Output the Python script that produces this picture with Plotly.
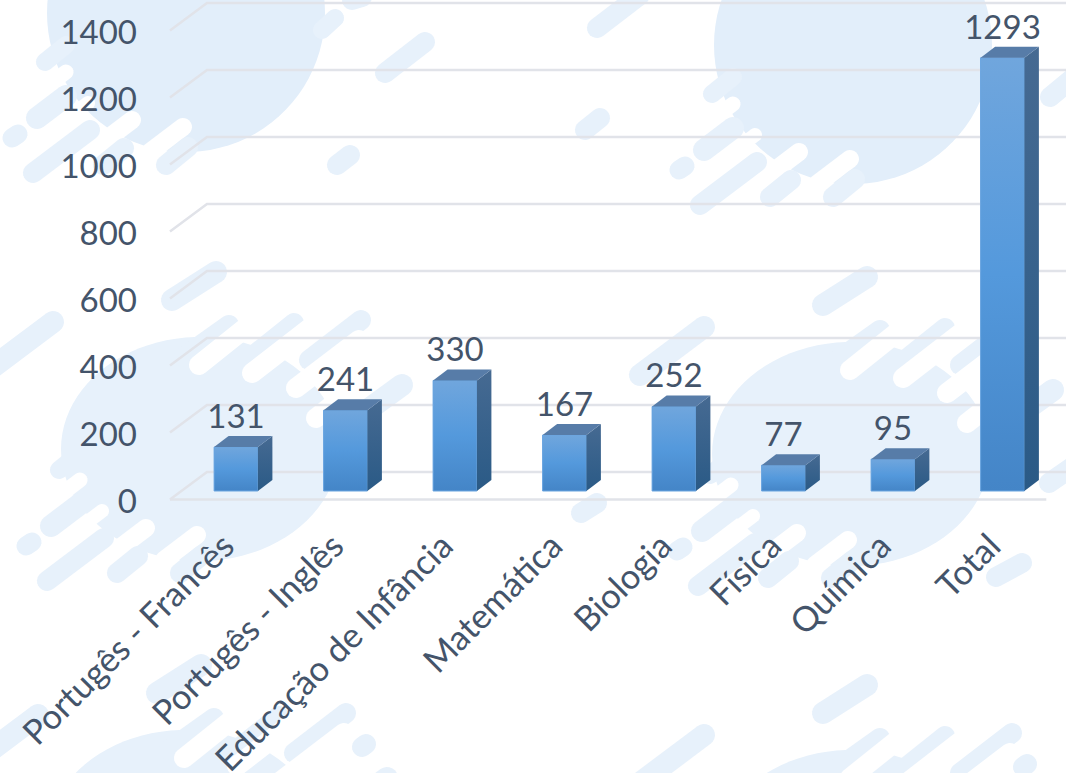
import numpy as np
import plotly.graph_objects as go

categories = ["Portugês - Francês", "Portugês - Inglês", "Educação de Infância", "Matemática",
              "Biologia", "Física", "Química", "Total"]
values = [131, 241, 330, 167, 252, 77, 95, 1293]
y_ticks = [0, 200, 400, 600, 800, 1000, 1200, 1400]

W, H = 1066, 773
TEXT = "#44546A"
FONT = "Lato"
FS = 33
FS_CAT = 34.5
BG = "#E7F1FB"
BG_TOP = "#E2EEFA"
BG_LOW = "#E7F1FB"
PX_X, X0 = 109.5, 236.0
PX_Y, Y0 = 0.335, 499.5
HALF = 0.2
DX, DY = 14.5 / PX_X, 11 / PX_Y
BASE = 8.5 / PX_Y
WALL = 27.5 / PX_Y
XL, XB, XF, XE = -0.603, -0.265, 7.4, 7.62


def px(x, y):
    return x / W, 1 - y / H


def poly(points):
    pts = [px(*p) for p in points]
    return "M" + "L".join(f"{a:.5f},{b:.5f}" for a, b in pts) + "Z"


def blob(cx, cy, rx, ry, color=BG):
    t = np.linspace(0, 2 * np.pi, 90, endpoint=False)
    return dict(type="path", xref="paper", yref="paper", layer="below", line_width=0, fillcolor=color,
                path=poly(list(zip(cx + rx * np.cos(t), cy + ry * np.sin(t)))))


def capsule(x0, y0, x1, y1, w, color=BG):
    a = np.arctan2(y1 - y0, x1 - x0)
    t = np.linspace(-np.pi / 2, np.pi / 2, 12)
    r = w / 2
    pts = [(x1 + r * np.cos(a + s), y1 + r * np.sin(a + s)) for s in t]
    pts += [(x0 - r * np.cos(a + s), y0 - r * np.sin(a + s)) for s in t]
    return dict(type="path", xref="paper", yref="paper", layer="below", line_width=0, fillcolor=color,
                path=poly(pts))


def moved(c, dx, dy):
    return (c[0] + dx, c[1] + dy, c[2] + dx, c[3] + dy, c[4])


LOW_WHITE = [(132, 120, 95, 148, 18), (183, 127, 150, 152, 18), (66, 72, 45, 88, 15), (88, 103, 55, 128, 14)]
LOW_BLUE = [(45, 62, 66, 45, 18), (37, 118, 66, 96, 22), (12, 138, 18, 134, 19),
            (33, 173, 90, 130, 20), (103, 165, 124, 148, 20), (166, 165, 188, 147, 20)]
TOP_BLUE = [(704, 327, 640, 375, 22), (880, 330, 835, 362, 20), (945, 328, 895, 368, 20),
            (1012, 325, 960, 365, 20), (1053, 390, 1005, 425, 22), (867, 277, 823, 305, 22)]
TOP_WHITE = [(850, 370, 900, 330, 20), (903, 378, 965, 330, 20), (947, 393, 1010, 345, 20),
             (967, 423, 1005, 393, 20)]

shapes = [blob(186, 13, 139, 139, BG_TOP), blob(853, 45, 139, 139, BG_TOP),
          blob(200, 449, 139, 112, BG_LOW), blob(851, 454, 139, 112, BG_LOW),
          blob(185, 842, 139, 112, BG_LOW), blob(851, 862, 139, 112, BG_LOW)]
for d in [(-651, -5), (0, 0), (-666, 388), (0, 408)]:
    shapes += [capsule(*moved(c, *d)) for c in TOP_BLUE]
    shapes += [capsule(*moved(c, *d), "white") for c in TOP_WHITE]
for d in [(0, 0), (667, 32), (14, 408), (665, 413)]:
    shapes += [capsule(*moved(c, *d), "white") for c in LOW_WHITE]
    shapes += [capsule(*moved(c, *d)) for c in LOW_BLUE]
for c in [(337, 165, 350, 155, 20), (585, 130, 600, 118, 20), (597, 28, 640, -5, 20),
          (385, 73, 425, 42, 20), (1050, 97, 1080, 72, 20), (322, 30, 335, 18, 18), (352, 0, 362, -3, 20),
          (581, 513, 597, 503, 20), (996, 577, 1022, 563, 20), (1049, 483, 1075, 465, 20),
          (362, 747, 366, 744, 20), (1023, 767, 1027, 764, 20)]:
    shapes.append(capsule(*c))

xs = list(range(len(categories)))
fig = go.Figure()

for v in y_ticks:
    fig.add_trace(go.Scatter(x=[XL, XB, XE], y=[v, v + WALL, v + WALL], mode="lines",
                             line=dict(color="#E1E3E9", width=2.5), hoverinfo="skip", showlegend=False))
fig.add_trace(go.Scatter(x=[XL, XF], y=[0, 0], mode="lines",
                         line=dict(color="#E1E3E9", width=2.5), hoverinfo="skip", showlegend=False))

fig.add_trace(go.Bar(x=xs, y=values, base=BASE, width=2 * HALF, showlegend=False,
                     marker=dict(color="#5499DC", line=dict(width=0))))

FRONT = [[0, "#4485C7"], [0.5, "#5499DC"], [1, "#70A6DD"]]
SIDE = [[0, "#2A5A86"], [1, "#466A92"]]
for x, v in zip(xs, values):
    top = BASE + v
    fig.add_trace(go.Scatter(x=[x - HALF, x + HALF, x + HALF, x - HALF, x - HALF],
                             y=[BASE, BASE, top, top, BASE], mode="lines", fill="toself",
                             line=dict(color="#6AA5E0", width=1),
                             fillgradient=dict(type="vertical", colorscale=FRONT),
                             hoverinfo="skip", showlegend=False))
    fig.add_trace(go.Scatter(x=[x + HALF, x + HALF + DX, x + HALF + DX, x + HALF, x + HALF],
                             y=[BASE, BASE + DY, top + DY, top, BASE], mode="lines", fill="toself",
                             line=dict(width=0, color="#3A6A98"),
                             fillgradient=dict(type="vertical", colorscale=SIDE),
                             hoverinfo="skip", showlegend=False))
    fig.add_trace(go.Scatter(x=[x - HALF, x + HALF, x + HALF + DX, x - HALF + DX, x - HALF],
                             y=[top, top, top + DY, top + DY, top], mode="lines", fill="toself",
                             fillcolor="#577CA8", line=dict(width=0, color="#577CA8"),
                             hoverinfo="skip", showlegend=False))

fig.add_trace(go.Scatter(x=xs, y=[BASE + DY + v for v in values], mode="text",
                         text=[str(v) for v in values], textposition="top center",
                         textfont=dict(family=FONT, size=FS, color=TEXT),
                         hoverinfo="skip", showlegend=False))

fig.update_layout(
    width=W, height=H, margin=dict(l=0, r=0, t=0, b=0, autoexpand=False), autosize=False,
    paper_bgcolor="white", plot_bgcolor="rgba(0,0,0,0)", showlegend=False, shapes=shapes,
    font=dict(family=FONT, color=TEXT),
    xaxis=dict(range=[-X0 / PX_X, (W - X0) / PX_X], tickmode="array", tickvals=xs, ticktext=categories,
               tickangle=-45, tickfont=dict(family=FONT, size=FS_CAT, color=TEXT), showgrid=False, zeroline=False,
               showline=False, ticks="", anchor="free", position=1 - 518 / H, domain=[0, 1], ticklabelshift=-12,
               automargin=False),
    yaxis=dict(range=[-(H - Y0) / PX_Y, Y0 / PX_Y], tickmode="array", tickvals=y_ticks,
               tickfont=dict(family=FONT, size=FS, color=TEXT), showgrid=False, zeroline=False,
               showline=False, ticks="", anchor="free", position=137 / W, domain=[0, 1], ticklabelshift=2,
               automargin=False),
)
fig.write_html("out.html", config={"displayModeBar": False},
               post_script="document.body.style.margin='0';document.body.style.overflow='hidden';")
